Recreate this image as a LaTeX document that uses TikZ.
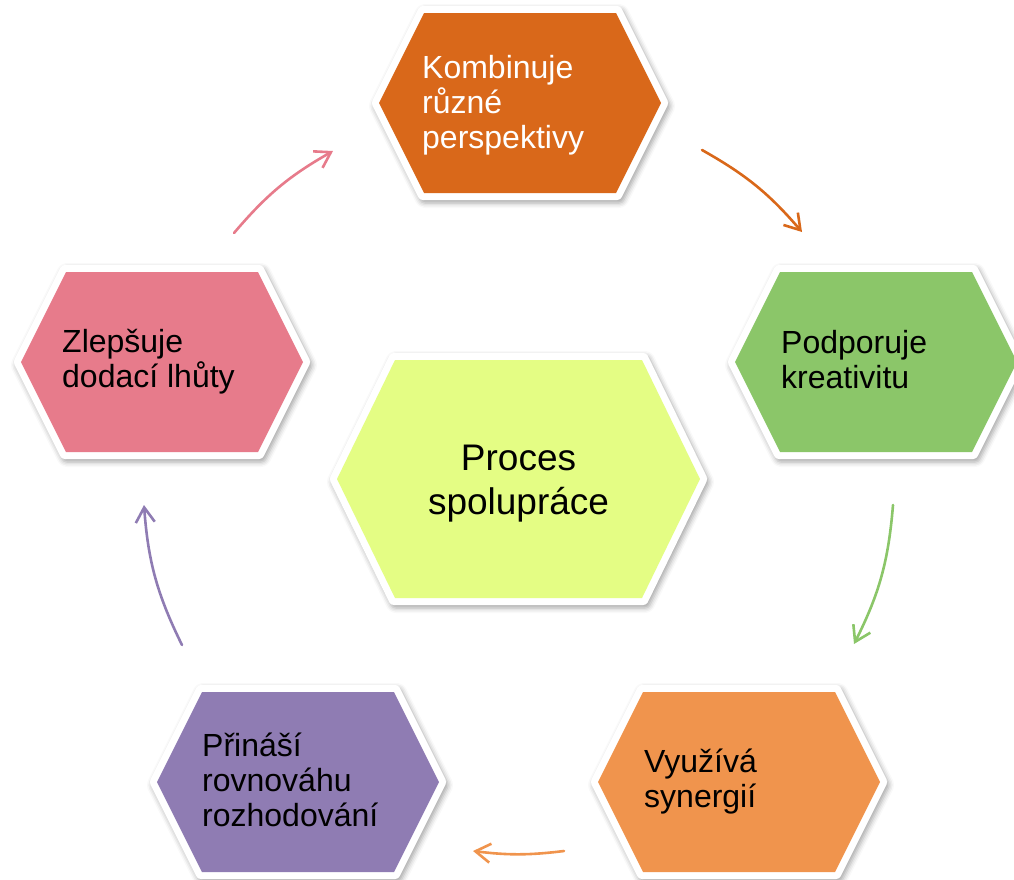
\documentclass[tikz,border=0pt]{standalone}
\usepackage{fontspec}
\setmainfont{Liberation Sans}
\usetikzlibrary{arrows.meta,shadows.blur}
\definecolor{cTop}{HTML}{D9681A}
\definecolor{cPink}{HTML}{E77B8B}
\definecolor{cGreen}{HTML}{8BC669}
\definecolor{cCenter}{HTML}{E4FD84}
\definecolor{cPurple}{HTML}{8F7CB3}
\definecolor{cLight}{HTML}{F0944D}
% hexagon path: centre x, centre y, half width, half height, inset
\newcommand\hexp[5]{(#1-#3,#2) -- (#1-#3+#5,#2-#4) -- (#1+#3-#5,#2-#4) -- (#1+#3,#2) -- (#1+#3-#5,#2+#4) -- (#1-#3+#5,#2+#4) -- cycle}
\tikzset{
  hexborder/.style={fill=white, rounded corners=3pt,
    blur shadow={shadow xshift=2pt, shadow yshift=-3pt, shadow blur radius=5pt, shadow opacity=35}},
  hextext/.style={anchor=west, inner sep=0pt, align=left, font=\fontsize{32}{35}\selectfont},
  centertext/.style={anchor=center, inner sep=0pt, align=center, font=\fontsize{37}{44}\selectfont},
  cyclearrow/.style={line width=2.6pt, line cap=round, -{Straight Barb[length=15pt,width=19pt]}}
}
\begin{document}
\begin{tikzpicture}[x=1pt,y=-1pt]
\useasboundingbox (0,0) rectangle (1014,879);
% hexagons (white border with shadow, then coloured face)
\path[hexborder] \hexp{520}{103}{148.8}{97}{48.5};
\fill[cTop] \hexp{520}{103}{141}{90}{45};
\path[hexborder] \hexp{162}{362}{148.8}{97}{48.5};
\fill[cPink] \hexp{162}{362}{141}{90}{45};
\path[hexborder] \hexp{876}{362}{148.8}{97}{48.5};
\fill[cGreen] \hexp{876}{362}{141}{90}{45};
\path[hexborder] \hexp{298}{782}{148.8}{97}{48.5};
\fill[cPurple] \hexp{298}{782}{141}{90}{45};
\path[hexborder] \hexp{739}{782}{148.8}{97}{48.5};
\fill[cLight] \hexp{739}{782}{141}{90}{45};
\path[hexborder] \hexp{518.5}{479}{189.3}{126}{61.4};
\fill[cCenter] \hexp{518.5}{479}{181.5}{119}{58};
% texts
\node[hextext, text=white] (tTop) at (422,105) {Kombinuje\\různé\\perspektivy};
\node[hextext] (tPink) at (62,362) {Zlepšuje\\dodací lhůty};
\node[hextext] (tGreen) at (781,359.5) {Podporuje\\kreativitu};
\node[hextext] (tPurple) at (202,779.5) {Přináší\\rovnováhu\\rozhodování};
\node[hextext] (tLight) at (644,782) {Využívá\\synergií};
\node[centertext] (tCenter) at (518.5,484) {Proces\\spolupráce};
% arrow end points
\coordinate (a1s) at (702,150); \coordinate (a1e) at (802,232);
\coordinate (a2s) at (893,505); \coordinate (a2e) at (854,644);
\coordinate (a3s) at (564,851); \coordinate (a3e) at (473,851);
\coordinate (a4s) at (182,645); \coordinate (a4e) at (144,505);
\coordinate (a5s) at (234,233); \coordinate (a5e) at (333,151);
\draw[cyclearrow, cTop] (a1s) to[bend left=10] (a1e);
\draw[cyclearrow, cGreen] (a2s) to[bend left=11] (a2e);
\draw[cyclearrow, cLight] (a3s) to[bend left=7] (a3e);
\draw[cyclearrow, cPurple] (a4s) to[bend left=11] (a4e);
\draw[cyclearrow, cPink] (a5s) to[bend left=10] (a5e);
\end{tikzpicture}
\end{document}
